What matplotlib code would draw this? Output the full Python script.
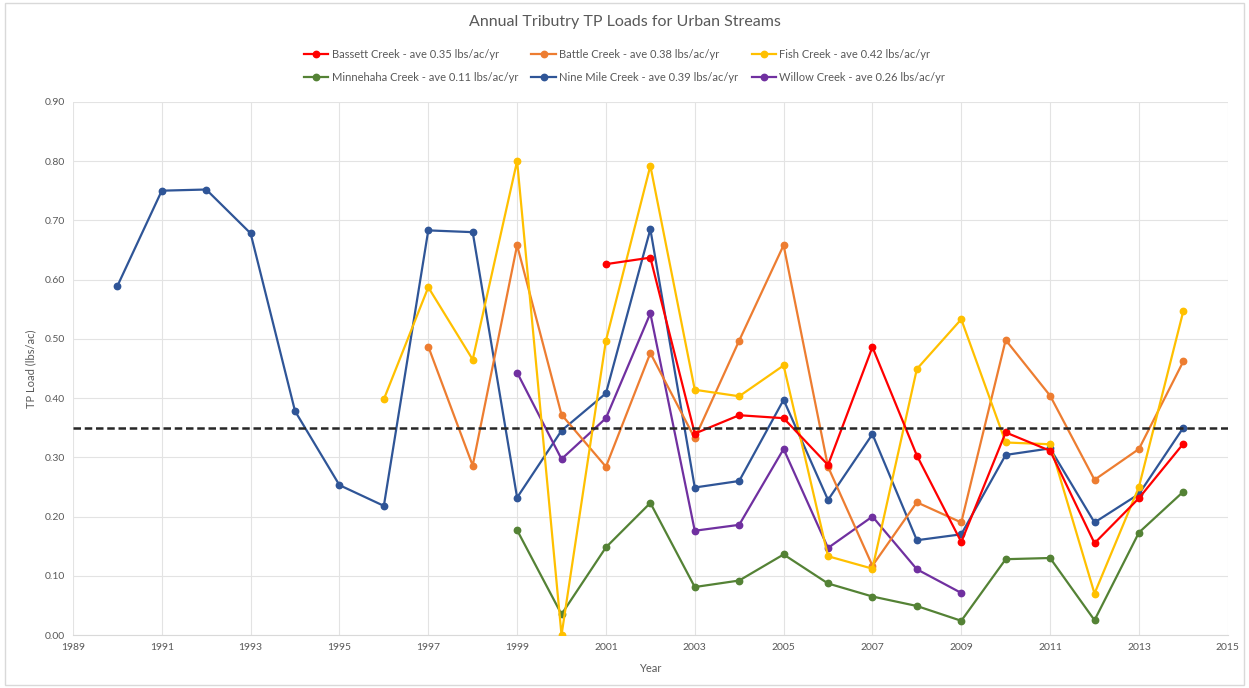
import matplotlib
matplotlib.use("Agg")
import matplotlib.pyplot as plt
import matplotlib.patches as mpatches

plt.rcParams['font.family'] = ['Lato', 'DejaVu Sans']

# ---- data ----
years_nine = list(range(1990, 2015))
nine_mile = [0.589, 0.750, 0.752, 0.678, 0.378, 0.253, 0.218, 0.683, 0.680, 0.232,
             0.345, 0.408, 0.685, 0.249, 0.260, 0.397, 0.228, 0.339, 0.160, 0.170,
             0.304, 0.315, 0.190, 0.238, 0.350]
years_fish = list(range(1996, 2015))
fish = [0.398, 0.587, 0.465, 0.800, 0.000, 0.497, 0.792, 0.414, 0.403, 0.455,
        0.133, 0.112, 0.449, 0.533, 0.325, 0.322, 0.070, 0.250, 0.547]
years_battle = list(range(1997, 2015))
battle = [0.487, 0.286, 0.658, 0.372, 0.284, 0.476, 0.332, 0.497, 0.658, 0.284,
          0.117, 0.224, 0.190, 0.498, 0.404, 0.262, 0.314, 0.462]
years_bassett = list(range(2001, 2015))
bassett = [0.626, 0.637, 0.340, 0.371, 0.366, 0.287, 0.486, 0.303, 0.157, 0.342,
           0.311, 0.155, 0.231, 0.323]
years_minne = list(range(1999, 2015))
minnehaha = [0.177, 0.035, 0.148, 0.223, 0.081, 0.092, 0.136, 0.087, 0.065, 0.049,
             0.024, 0.128, 0.130, 0.025, 0.173, 0.242]
years_willow = list(range(1999, 2010))
willow = [0.443, 0.297, 0.366, 0.543, 0.176, 0.186, 0.314, 0.147, 0.200, 0.111, 0.071]
threshold = 0.35

labels = {
    'bassett': 'Bassett Creek - ave 0.35 lbs/ac/yr',
    'battle': 'Battle Creek - ave 0.38 lbs/ac/yr',
    'fish': 'Fish Creek - ave 0.42 lbs/ac/yr',
    'minne': 'Minnehaha Creek - ave 0.11 lbs/ac/yr',
    'nine': 'Nine Mile Creek - ave 0.39 lbs/ac/yr',
    'willow': 'Willow Creek - ave 0.26 lbs/ac/yr',
}
colors = {
    'bassett': '#FF0000', 'battle': '#ED7D31', 'fish': '#FFC000',
    'minne': '#548235', 'nine': '#2F5597', 'willow': '#7030A0',
}

fig = plt.figure(figsize=(12.49, 6.88), dpi=100)
fig.patch.set_facecolor('white')
ax = fig.add_axes([0.0584, 0.077, 0.9246, 0.775])

series = [
    ('nine', years_nine, nine_mile),
    ('minne', years_minne, minnehaha),
    ('willow', years_willow, willow),
    ('battle', years_battle, battle),
    ('fish', years_fish, fish),
    ('bassett', years_bassett, bassett),
]
handles = {}
for key, xs, ys in series:
    h, = ax.plot(xs, ys, color=colors[key], lw=1.6, marker='o', ms=4.6,
                 label=labels[key], zorder=3)
    handles[key] = h

ax.axhline(threshold, color='#262626', lw=1.8, ls=(0, (3, 1.5)), zorder=4)

ax.set_xlim(1989, 2015)
ax.set_ylim(0, 0.90)
ax.set_xticks(range(1989, 2016, 2))
ax.set_yticks([i / 10 for i in range(10)])
ax.set_yticklabels([f"{i/10:.2f}" for i in range(10)])
ax.grid(True, color='#E3E3E3', lw=0.8, zorder=0)
for s in ['top', 'right', 'left']:
    ax.spines[s].set_visible(False)
ax.spines['bottom'].set_color('#D9D9D9')
ax.tick_params(axis='both', length=0, labelsize=7.5, colors='#595959', pad=6)
ax.set_xlabel('Year', fontsize=8, color='#595959', labelpad=8)
ax.set_ylabel('TP Load (lbs/ac)', fontsize=8, color='#595959', labelpad=6)

fig.text(0.5, 0.968, 'Annual Tributry TP Loads for Urban Streams', ha='center',
         va='center', fontsize=11.5, color='#595959')

order = ['bassett', 'minne', 'battle', 'nine', 'fish', 'willow']
leg = fig.legend([handles[k] for k in order], [labels[k] for k in order],
                 loc='center', bbox_to_anchor=(0.5, 0.904), ncol=3, frameon=False,
                 fontsize=8, handlelength=2.2, columnspacing=1.2,
                 handletextpad=0.3, labelspacing=1.1)
for t in leg.get_texts():
    t.set_color('#595959')

border = mpatches.Rectangle((0.004, 0.004), 0.992, 0.992, transform=fig.transFigure,
                            fill=False, edgecolor='#D9D9D9', lw=1)
fig.patches.append(border)

fig.savefig('out.png', dpi=100)
